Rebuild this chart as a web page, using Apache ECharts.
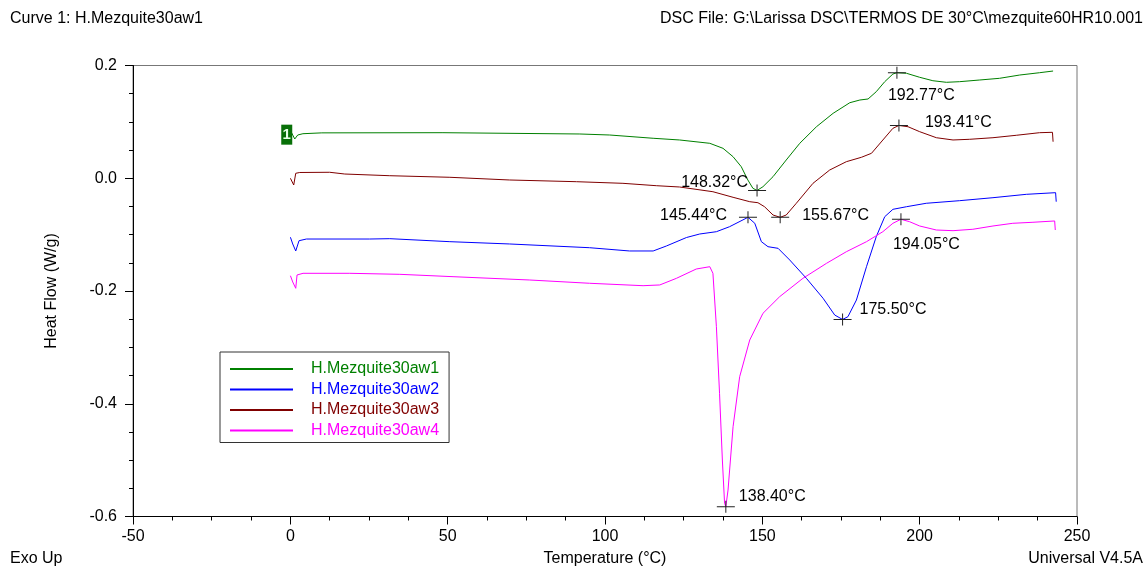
<!DOCTYPE html>
<html>
<head>
<meta charset="utf-8">
<script src="https://cdn.jsdelivr.net/npm/echarts@6/dist/echarts.min.js"></script>
<style>html,body{margin:0;padding:0;background:#fff}#c{width:1146px;height:566px}</style>
</head>
<body>
<div id="c"></div>
<script>
// ---- data (Temperature °C, Heat Flow W/g) ----
var seriesNames = ['H.Mezquite30aw1', 'H.Mezquite30aw2', 'H.Mezquite30aw3', 'H.Mezquite30aw4'];
var aw1 = [[0.44,0.0803],[1.4,0.0696],[2.35,0.0767],[4,0.0790],[10,0.0805],[48.5,0.0808],[92.0,0.0785],[101.5,0.0767],[115.3,0.0709],[123.7,0.0679],[133.3,0.0620],[137.5,0.0531],[140.7,0.0382],[143.3,0.0205],[145.4,-0.0031],[147.0,-0.0178],[148.32,-0.0217],[150.2,-0.0150],[153.4,0.0028],[157.6,0.0324],[161.9,0.0620],[167.2,0.0914],[172.5,0.1152],[177.8,0.1340],[181.0,0.1388],[183.6,0.1406],[186.2,0.1535],[188.9,0.1713],[191.5,0.1849],[192.77,0.1872],[195.8,0.1862],[200.0,0.1791],[204.2,0.1730],[208.5,0.1702],[212.7,0.1713],[219.1,0.1743],[225.4,0.1773],[231.8,0.1831],[238.1,0.1872],[242.4,0.1902]];
var aw2 = [[0.03,-0.1047],[0.76,-0.1166],[1.72,-0.1290],[2.76,-0.1108],[5.1,-0.1078],[25.2,-0.1078],[31.6,-0.1072],[50.7,-0.1125],[69.7,-0.1166],[95.1,-0.1232],[107.8,-0.1290],[115.3,-0.1290],[119.5,-0.1202],[125.9,-0.1051],[130.1,-0.0989],[135.4,-0.0948],[139.6,-0.0859],[145.44,-0.0693],[147.6,-0.0799],[149.7,-0.1125],[151.8,-0.1214],[155.0,-0.1243],[158.7,-0.1450],[164.0,-0.1775],[169.3,-0.2129],[173.0,-0.2426],[175.5,-0.2505],[177.2,-0.2456],[179.9,-0.2160],[183.1,-0.1569],[186.2,-0.1037],[188.9,-0.0682],[191.5,-0.0551],[195.8,-0.0505],[202.1,-0.0444],[212.7,-0.0398],[223.3,-0.0345],[233.9,-0.0285],[243.2,-0.0256],[243.4,-0.0416]];
var aw3 = [[0.03,-0.0001],[0.44,-0.0031],[1.08,-0.0120],[1.72,0.0088],[2.99,0.0102],[12.5,0.0106],[17.3,0.0075],[31.6,0.0045],[50.7,0.0017],[69.7,-0.0031],[90.9,-0.0061],[105.7,-0.0090],[116.3,-0.0132],[123.7,-0.0155],[134.3,-0.0239],[140.7,-0.0338],[146.0,-0.0416],[148.6,-0.0434],[150.7,-0.0505],[153.4,-0.0652],[155.67,-0.0693],[157.6,-0.0652],[160.8,-0.0444],[166.1,-0.0090],[171.4,0.0146],[176.7,0.0294],[181.5,0.0372],[184.7,0.0443],[188.3,0.0678],[191.5,0.0886],[193.41,0.0936],[196.3,0.0914],[200.0,0.0826],[205.3,0.0719],[210.6,0.0679],[215.9,0.0691],[223.3,0.0719],[230.7,0.0762],[238.1,0.0808],[242.2,0.0815],[242.4,0.0648]];
var aw4 = [[0.03,-0.1729],[0.76,-0.1840],[1.72,-0.1952],[2.13,-0.1716],[4.04,-0.1686],[18.9,-0.1686],[34.8,-0.1704],[51.7,-0.1746],[76.1,-0.1805],[95.1,-0.1863],[112.1,-0.1906],[117.4,-0.1893],[122.7,-0.1775],[129.0,-0.1610],[133.3,-0.1569],[134.3,-0.1686],[135.4,-0.2633],[136.4,-0.3814],[137.3,-0.4998],[138.0,-0.5766],[138.4,-0.5826],[139.1,-0.5530],[140.7,-0.4407],[142.8,-0.3520],[146.0,-0.2869],[150.2,-0.2396],[155.5,-0.2101],[162.9,-0.1775],[170.4,-0.1509],[176.7,-0.1303],[183.1,-0.1125],[188.3,-0.0948],[191.5,-0.0799],[194.05,-0.0728],[196.8,-0.0771],[200.0,-0.0847],[205.3,-0.0918],[210.6,-0.0930],[216.9,-0.0905],[223.3,-0.0847],[229.6,-0.0799],[236.0,-0.0781],[242.9,-0.0758],[243.1,-0.0918]];
var peakT = [148.32, 192.77, 155.67, 193.41, 145.44, 175.50, 138.40, 194.05];
var peakH = [-0.0217, 0.1872, -0.0693, 0.0936, -0.0693, -0.2505, -0.5826, -0.0728];
var peakLabels = ['148.32°C', '192.77°C', '155.67°C', '193.41°C', '145.44°C', '175.50°C', '138.40°C', '194.05°C'];
var curveTag = [[-1.14, 0.0773]];
var xTicks = { min: -50, max: 250, interval: 50 };
var yTicks = { min: -0.6, max: 0.2, interval: 0.2 };

// ---- styles ----
var FONT = 'Liberation Sans, Arial, sans-serif';
var colors = ['#008000', '#0000ff', '#800000', '#ff00ff'];
// label placement relative to marker centre: [dx, dy, align]
var labelPlace = [[-9,-8,'right'],[-9,23,'left'],[22,-2,'left'],[26,-3,'left'],[-21,-2,'right'],[17,-10,'left'],[13,-10,'left'],[-8,25,'left']];
var MW = 18, MH = 12;

var peakData = peakT.map(function (t, i) {
  var p = labelPlace[i];
  return {
    value: [t, peakH[i]],
    label: {
      show: true, formatter: peakLabels[i],
      position: [MW / 2 + p[0], MH / 2 + p[1]],
      align: p[2], verticalAlign: 'middle',
      fontFamily: FONT, fontSize: 16, color: '#000', opacity: 1
    }
  };
});

var chart = echarts.init(document.getElementById('c'), null, { renderer: 'canvas' });
var dataSets = [aw1, aw2, aw3, aw4];
var lineSeries = dataSets.map(function (d, i) {
  return {
    name: seriesNames[i], type: 'line', data: d, showSymbol: false, symbol: 'none',
    lineStyle: { color: colors[i], width: 1 }, itemStyle: { color: colors[i] },
    animation: false, z: 2
  };
});
lineSeries.push({
  type: 'scatter', data: peakData, z: 5, animation: false,
  symbol: 'path://M0,5.5H18V6.5H0Z M8.5,0H9.5V12H8.5Z', symbolSize: [MW, MH],
  itemStyle: { color: '#222', opacity: 1 }
});
lineSeries.push({
  type: 'scatter', data: curveTag, z: 6, animation: false,
  symbol: 'rect', symbolSize: [11, 20], itemStyle: { color: '#087008', opacity: 1 },
  label: { show: true, position: 'inside', formatter: '1', color: '#e8ffe8', fontFamily: FONT, fontSize: 15, fontWeight: 'bold' }
});

chart.setOption({
  animation: false,
  backgroundColor: '#fff',
  grid: { left: 133, right: 69, top: 65.5, bottom: 49.5, outerBoundsMode: 'none', containLabel: false, show: true, borderColor: '#777', borderWidth: 1, backgroundColor: 'transparent' },
  xAxis: {
    type: 'value', min: xTicks.min, max: xTicks.max, interval: xTicks.interval,
    name: 'Temperature (°C)', nameLocation: 'middle', nameGap: 34,
    nameTextStyle: { fontFamily: FONT, fontSize: 16, color: '#000' },
    axisLine: { show: true, onZero: false, lineStyle: { color: '#000', width: 1 } },
    axisTick: { show: true, inside: false, length: 8, lineStyle: { color: '#000' } },
    minorTick: { show: true, splitNumber: 4, length: 4, lineStyle: { color: '#000' } },
    splitLine: { show: false },
    axisLabel: { fontFamily: FONT, fontSize: 16, color: '#000', margin: 12 }
  },
  yAxis: {
    type: 'value', min: yTicks.min, max: yTicks.max, interval: yTicks.interval,
    name: 'Heat Flow (W/g)', nameLocation: 'middle', nameGap: 73, nameRotate: 90,
    nameTextStyle: { fontFamily: FONT, fontSize: 16, color: '#000' },
    axisLine: { show: true, onZero: false, lineStyle: { color: '#000', width: 1 } },
    axisTick: { show: true, inside: false, length: 8, lineStyle: { color: '#000' } },
    minorTick: { show: true, splitNumber: 4, length: 4, lineStyle: { color: '#000' } },
    splitLine: { show: false },
    axisLabel: { fontFamily: FONT, fontSize: 16, color: '#000', margin: 16, formatter: function (v) { return v.toFixed(1); } }
  },
  legend: {
    orient: 'vertical', left: 220, top: 352, padding: [9, 10, 4, 10],
    borderColor: '#333', borderWidth: 1, backgroundColor: '#fff',
    icon: 'rect', itemWidth: 63, itemHeight: 2, itemGap: 4.5,
    selectedMode: false,
    textStyle: { fontFamily: FONT, fontSize: 16, lineHeight: 16, padding: [0, 0, 0, 13] },
    data: seriesNames.map(function (n, i) { return { name: n, textStyle: { color: colors[i] } }; })
  },
  graphic: [
    { type: 'text', left: 10, top: 11, style: { text: 'Curve 1: H.Mezquite30aw1', fontFamily: FONT, fontSize: 16, fill: '#000' } },
    { type: 'text', right: 3, top: 11, style: { text: 'DSC File: G:\\Larissa DSC\\TERMOS DE 30°C\\mezquite60HR10.001', fontFamily: FONT, fontSize: 16, fill: '#000' } },
    { type: 'text', left: 10, top: 551, style: { text: 'Exo Up', fontFamily: FONT, fontSize: 16, fill: '#000' } },
    { type: 'text', right: 3, top: 551, style: { text: 'Universal V4.5A', fontFamily: FONT, fontSize: 16, fill: '#000' } }
  ],
  series: lineSeries
});
</script>
</body>
</html>
